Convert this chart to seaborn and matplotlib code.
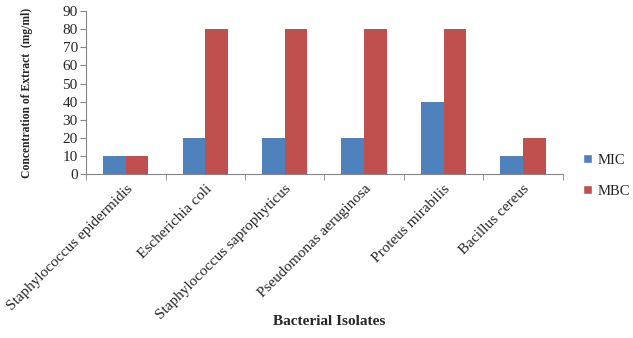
import matplotlib
matplotlib.use("Agg")
import matplotlib.pyplot as plt
import seaborn as sns
import pandas as pd
from matplotlib.patches import Patch

categories = ["Staphylococcus epidermidis", "Escherichia coli", "Staphylococcus saprophyticus",
              "Pseudomonas aeruginosa", "Proteus mirabilis", "Bacillus cereus"]
mic = [10, 20, 20, 20, 40, 10]
mbc = [10, 80, 80, 80, 80, 20]
series = ["MIC", "MBC"]
colors = ["#4F81BD", "#C0504D"]

df = pd.DataFrame({
    "Isolate": categories * 2,
    "Value": mic + mbc,
    "Series": ["MIC"] * len(categories) + ["MBC"] * len(categories),
})

sns.set_style("white")
plt.rcParams['font.family'] = ['Liberation Serif', 'DejaVu Serif']

fig = plt.figure(figsize=(6.33, 3.38), dpi=100)
ax = fig.add_axes([0.136, 0.485, 0.753, 0.482])
sns.barplot(data=df, x="Isolate", y="Value", hue="Series", palette=colors,
            width=0.57, ax=ax, legend=False, saturation=1, edgecolor="none")

ax.set_ylim(0, 90)
ax.set_yticks(range(0, 91, 10))
ax.set_xlim(-0.5, len(categories) - 0.5)
ax.set_xticks(range(len(categories)))
ax.set_xticklabels(categories, rotation=45, ha="right", rotation_mode="anchor", fontsize=11)
ax.set_xticks([i - 0.5 for i in range(len(categories) + 1)], minor=True)
ax.tick_params(axis="x", which="major", length=0, pad=6)
ax.tick_params(axis="x", which="minor", length=4, color="#868686", direction="out", bottom=True)
ax.tick_params(axis="y", length=4, color="#868686", direction="out", labelsize=11, left=True, pad=2)

for s in ["top", "right"]:
    ax.spines[s].set_visible(False)
for s in ["left", "bottom"]:
    ax.spines[s].set_color("#868686")
    ax.spines[s].set_linewidth(0.8)

ax.set_ylabel("Concentration of Extract  (mg/ml)", fontsize=8.4, fontweight="bold", labelpad=21)
ax.set_xlabel("")
fig.text(0.52, 0.03, "Bacterial Isolates", ha="center", va="bottom", fontsize=11, fontweight="bold")

handles = [Patch(facecolor=c, label=s) for c, s in zip(colors, series)]
fig.legend(handles=handles, loc="center left", bbox_to_anchor=(0.9, 0.48), frameon=False,
           fontsize=10.5, handlelength=0.6, handleheight=0.6, handletextpad=0.4, labelspacing=1.2)

fig.savefig("out.png", dpi=100)
